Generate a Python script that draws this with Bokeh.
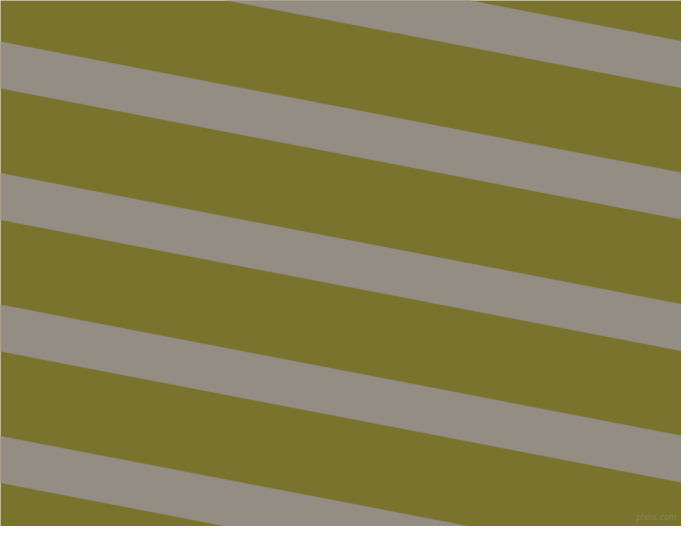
from bokeh.plotting import figure
from bokeh.models import Range1d
from bokeh.core.properties import value
from bokeh.embed import file_html
from bokeh.resources import INLINE

# Stripe data (in reference pixel units, y measured from top)
stripe_left_tops = [-93.0, 42.5, 178.0, 313.5, 449.0]   # y of stripe top edge at x=0
stripe_drop = 135.0          # vertical drop across full width
stripe_thickness = 48.0      # vertical thickness
canvas_w = 697
canvas_h = 542
bg_color = "#79732D"
stripe_color = "#948D83"
watermark = "pixlis.com"

p = figure(width=681, height=526, output_backend="svg", toolbar_location=None,
           x_range=Range1d(0, canvas_w), y_range=Range1d(canvas_h, 0),
           min_border=0, background_fill_color=bg_color, border_fill_color=bg_color)
p.axis.visible = False
p.grid.visible = False
p.outline_line_color = None

xs, ys = [], []
for t in stripe_left_tops:
    xs.append([0, canvas_w, canvas_w, 0])
    ys.append([t, t + stripe_drop, t + stripe_drop + stripe_thickness, t + stripe_thickness])
p.patches(xs, ys, fill_color=stripe_color, line_color=stripe_color, line_width=0.5)

p.text(x=[692], y=[537], text=[watermark], text_align="right", text_baseline="bottom",
       text_font=value("DejaVu Sans"), text_font_size="8px", text_color="#8C8A5C", text_alpha=0.8)

open("out.html", "w").write(file_html(p, INLINE))
